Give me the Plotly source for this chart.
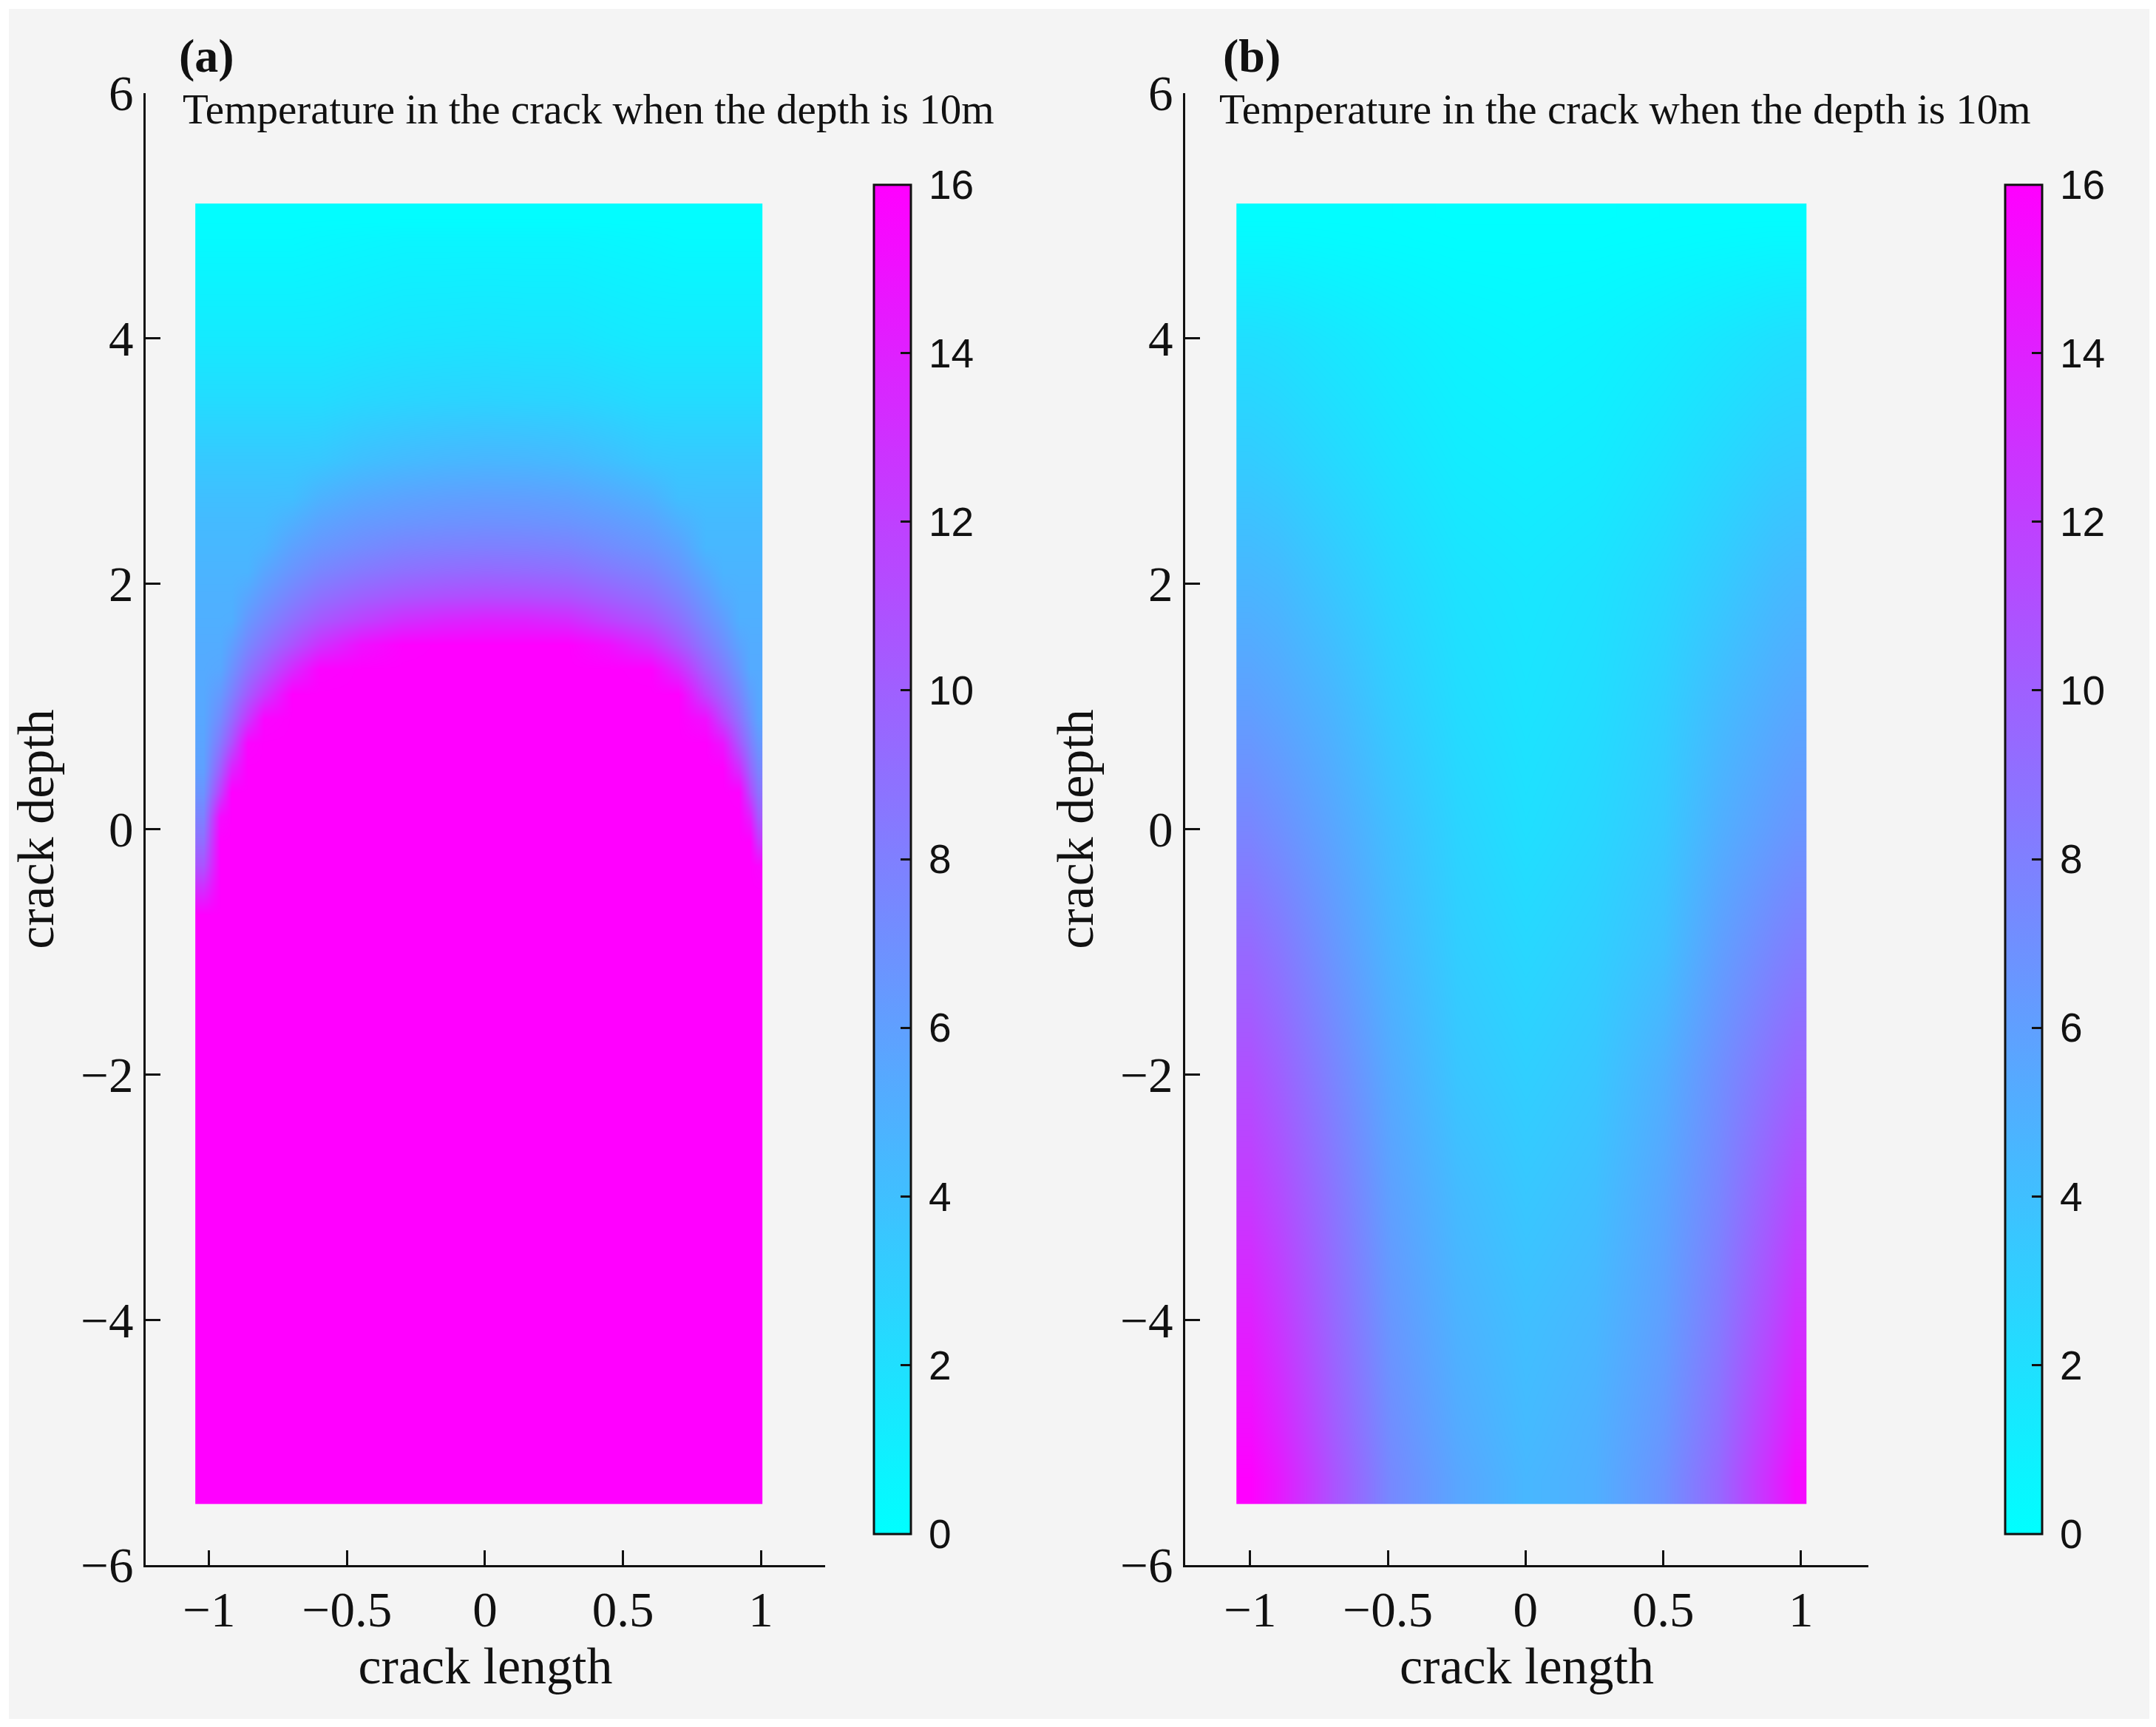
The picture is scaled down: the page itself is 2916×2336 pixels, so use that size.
import plotly.graph_objects as go

# malha (a) - centros das celulas
x_a = [-1.02, -0.96, -0.92, -0.86, -0.8, -0.7, -0.6, -0.45, -0.3, -0.15, 0.0,
       0.15, 0.3, 0.45, 0.6, 0.7, 0.8, 0.86, 0.92, 0.96, 0.99]
y_a = [5.0, 4.8, 4.0, 3.5, 3.0, 2.7, 2.5, 2.3, 2.1, 1.9, 1.7, 1.5, 1.3, 1.1,
       0.9, 0.7, 0.5, 0.3, 0.1, -0.1, -0.3, -0.5, -0.7, -4.9, -5.3]

# temperatura (a) - linhas de cima para baixo
temp_a = [
    [0.1, 0.1, 0.1, 0.1, 0.1, 0.1, 0.1, 0.1, 0.1, 0.1, 0.1, 0.1, 0.1, 0.1, 0.1, 0.1, 0.1, 0.1, 0.1, 0.1, 0.1],
    [0.3, 0.3, 0.3, 0.3, 0.3, 0.3, 0.4, 0.5, 0.6, 0.6, 0.6, 0.6, 0.6, 0.5, 0.4, 0.3, 0.3, 0.3, 0.3, 0.3, 0.3],
    [1.3, 1.3, 1.3, 1.3, 1.3, 1.3, 1.3, 1.45, 1.6, 1.65, 1.7, 1.65, 1.65, 1.45, 1.3, 1.3, 1.3, 1.3, 1.3, 1.3, 1.3],
    [2.2, 2.2, 2.2, 2.2, 2.2, 2.2, 2.2, 2.45, 2.6, 2.7, 2.75, 2.7, 2.65, 2.45, 2.2, 2.2, 2.2, 2.2, 2.2, 2.2, 2.2],
    [3.4, 3.4, 3.4, 3.4, 3.4, 3.4, 3.5, 4.0, 4.3, 4.5, 4.6, 4.55, 4.4, 4.0, 3.5, 3.4, 3.4, 3.4, 3.4, 3.4, 3.4],
    [4.0, 4.0, 4.0, 4.0, 4.0, 4.05, 4.8, 5.4, 5.75, 5.95, 6.05, 6.0, 5.85, 5.4, 4.85, 4.05, 4.0, 4.0, 4.0, 4.0, 4.0],
    [4.3, 4.3, 4.3, 4.3, 4.3, 4.95, 5.7, 6.3, 6.6, 6.8, 6.9, 6.85, 6.7, 6.3, 5.75, 4.95, 4.3, 4.3, 4.3, 4.3, 4.3],
    [4.5, 4.5, 4.5, 4.5, 4.7, 5.85, 6.55, 7.2, 7.7, 7.9, 8.0, 7.95, 7.8, 7.2, 6.6, 5.85, 4.5, 4.5, 4.5, 4.5, 4.5],
    [4.7, 4.7, 4.7, 4.7, 5.6, 6.7, 7.6, 8.4, 8.95, 9.25, 9.4, 9.3, 9.1, 8.4, 7.7, 6.7, 5.4, 4.7, 4.7, 4.7, 4.7],
    [4.9, 4.9, 4.9, 5.6, 6.5, 7.8, 8.9, 9.9, 10.6, 11.0, 11.2, 11.1, 10.8, 9.9, 8.95, 7.8, 6.3, 5.3, 4.9, 4.9, 4.9],
    [5.0, 5.0, 5.05, 6.5, 7.5, 9.1, 10.5, 11.9, 13.1, 13.7, 14.0, 13.9, 13.4, 11.9, 10.6, 9.1, 7.2, 6.2, 5.0, 5.0, 5.0],
    [5.2, 5.2, 5.95, 7.5, 8.75, 10.8, 12.9, 15.0, 15.9, 16.0, 16.0, 16.0, 16.0, 15.0, 13.1, 10.8, 8.4, 7.1, 5.75, 5.2, 5.2],
    [5.3, 5.5, 6.8, 8.75, 10.35, 13.4, 15.8, 16.0, 16.0, 16.0, 16.0, 16.0, 16.0, 16.0, 15.9, 13.4, 9.9, 8.3, 6.6, 5.3, 5.3],
    [5.4, 6.4, 7.9, 10.35, 12.6, 16.0, 16.0, 16.0, 16.0, 16.0, 16.0, 16.0, 16.0, 16.0, 16.0, 16.0, 11.9, 9.75, 7.7, 6.1, 5.4],
    [5.5, 7.3, 9.25, 12.6, 15.7, 16.0, 16.0, 16.0, 16.0, 16.0, 16.0, 16.0, 16.0, 16.0, 16.0, 16.0, 15.0, 11.7, 8.95, 6.95, 5.6],
    [5.7, 8.5, 11.0, 15.7, 16.0, 16.0, 16.0, 16.0, 16.0, 16.0, 16.0, 16.0, 16.0, 16.0, 16.0, 16.0, 16.0, 14.7, 10.6, 8.1, 6.5],
    [5.9, 10.1, 13.7, 16.0, 16.0, 16.0, 16.0, 16.0, 16.0, 16.0, 16.0, 16.0, 16.0, 16.0, 16.0, 16.0, 16.0, 16.0, 13.1, 9.5, 7.5],
    [6.7, 12.2, 16.0, 16.0, 16.0, 16.0, 16.0, 16.0, 16.0, 16.0, 16.0, 16.0, 16.0, 16.0, 16.0, 16.0, 16.0, 16.0, 15.9, 11.35, 8.75],
    [7.8, 15.4, 16.0, 16.0, 16.0, 16.0, 16.0, 16.0, 16.0, 16.0, 16.0, 16.0, 16.0, 16.0, 16.0, 16.0, 16.0, 16.0, 16.0, 14.2, 10.35],
    [9.1, 16.0, 16.0, 16.0, 16.0, 16.0, 16.0, 16.0, 16.0, 16.0, 16.0, 16.0, 16.0, 16.0, 16.0, 16.0, 16.0, 16.0, 16.0, 16.0, 12.6],
    [10.8, 16.0, 16.0, 16.0, 16.0, 16.0, 16.0, 16.0, 16.0, 16.0, 16.0, 16.0, 16.0, 16.0, 16.0, 16.0, 16.0, 16.0, 16.0, 16.0, 15.7],
    [13.4, 16.0, 16.0, 16.0, 16.0, 16.0, 16.0, 16.0, 16.0, 16.0, 16.0, 16.0, 16.0, 16.0, 16.0, 16.0, 16.0, 16.0, 16.0, 16.0, 16.0],
    [16.0, 16.0, 16.0, 16.0, 16.0, 16.0, 16.0, 16.0, 16.0, 16.0, 16.0, 16.0, 16.0, 16.0, 16.0, 16.0, 16.0, 16.0, 16.0, 16.0, 16.0],
    [16.0, 16.0, 16.0, 16.0, 16.0, 16.0, 16.0, 16.0, 16.0, 16.0, 16.0, 16.0, 16.0, 16.0, 16.0, 16.0, 16.0, 16.0, 16.0, 16.0, 16.0],
    [16.0, 16.0, 16.0, 16.0, 16.0, 16.0, 16.0, 16.0, 16.0, 16.0, 16.0, 16.0, 16.0, 16.0, 16.0, 16.0, 16.0, 16.0, 16.0, 16.0, 16.0],
]

x_b = [-1.0, -0.9, -0.7, -0.5, -0.25, 0.0, 0.25, 0.5, 0.7, 0.9, 0.98]
y_b = [5.0, 4.8, 4.0, 3.0, 2.0, 1.0, 0.0, -1.0, -2.0, -3.0, -4.0, -4.9, -5.3]

# temperatura (b)
temp_b = [
    [0.1, 0.1, 0.1, 0.1, 0.0, 0.0, 0.0, 0.1, 0.1, 0.1, 0.1],
    [0.4, 0.4, 0.3, 0.2, 0.1, 0.1, 0.1, 0.2, 0.3, 0.4, 0.4],
    [2.0, 1.9, 1.5, 1.1, 0.7, 0.5, 0.7, 1.1, 1.5, 1.9, 2.0],
    [3.2, 3.0, 2.4, 1.8, 1.2, 1.0, 1.2, 1.8, 2.4, 3.0, 3.1],
    [4.6, 4.4, 3.5, 2.6, 1.8, 1.5, 1.8, 2.5, 3.3, 4.2, 4.4],
    [6.0, 5.6, 4.6, 3.3, 2.2, 1.7, 2.1, 3.0, 4.2, 5.2, 5.5],
    [7.6, 7.0, 5.6, 4.1, 2.7, 2.0, 2.5, 3.4, 5.0, 6.2, 6.6],
    [9.4, 8.6, 6.6, 4.7, 3.1, 2.5, 3.0, 4.0, 6.0, 7.6, 8.1],
    [11.0, 10.0, 7.7, 5.4, 3.6, 3.0, 3.5, 5.0, 7.0, 9.0, 9.7],
    [12.4, 11.3, 8.7, 6.0, 4.3, 3.5, 4.0, 5.6, 7.6, 10.3, 11.4],
    [14.0, 12.6, 9.5, 6.6, 4.8, 4.0, 4.5, 6.0, 8.3, 11.5, 13.0],
    [15.3, 13.8, 10.3, 7.2, 5.3, 4.3, 4.9, 6.5, 9.0, 12.8, 14.5],
    [16.0, 14.5, 10.8, 7.5, 5.6, 4.5, 5.0, 6.8, 9.4, 13.5, 15.4],
]

x_ticks = [-1, -0.5, 0, 0.5, 1]
cb_ticks = [0, 2, 4, 6, 8, 10, 12, 14, 16]

W, H = 2916, 2336
OFF = 8  # margem do body da pagina
serif = "Liberation Serif, Times New Roman, serif"
sans = "Liberation Sans, Arial, sans-serif"
cool = [[0, "rgb(0,255,255)"], [1, "rgb(255,0,255)"]]


def px(x):
    return (x - OFF) / W


def py(y):
    return 1 - (y - OFF) / H


fig = go.Figure()


def colorbar(x_px):
    return dict(
        x=px(x_px), xanchor="left", xpad=0, ypad=0,
        y=py(1162), yanchor="middle",
        len=1825, lenmode="pixels", thickness=50, thicknessmode="pixels",
        outlinewidth=3, outlinecolor="#111",
        ticks="inside", ticklen=15, tickwidth=3, tickcolor="#111",
        tickvals=cb_ticks, ticktext=["\u2009" + str(v) for v in cb_ticks],
        tickfont=dict(family=sans, size=55, color="#111"),
    )


fig.add_trace(go.Heatmap(x=x_a, y=y_a[::-1], z=temp_a[::-1], colorscale=cool,
                         zmin=0, zmax=16, zsmooth="best",
                         colorbar=colorbar(1182), xaxis="x", yaxis="y"))
fig.add_trace(go.Heatmap(x=x_b, y=y_b[::-1], z=temp_b[::-1], colorscale=cool,
                         zmin=0, zmax=16, zsmooth="best",
                         colorbar=colorbar(2712), xaxis="x2", yaxis="y2"))

eixo = dict(showline=True, linecolor="#111", linewidth=3, ticks="inside",
            ticklen=20, tickwidth=3, tickcolor="#111", showgrid=False,
            zeroline=False, tickfont=dict(family=serif, size=67, color="#111"))
titulo = dict(family=serif, size=70, color="#111")
y_dom = [py(2117), py(126)]

fig.update_layout(
    width=W, height=H,
    margin=dict(l=0, r=0, t=0, b=0, autoexpand=False),
    paper_bgcolor="white", plot_bgcolor="rgba(0,0,0,0)",
    showlegend=False,
    xaxis=dict(domain=[px(197), px(1116)], range=[-1.23, 1.233], tickvals=x_ticks,
               anchor="y", title=dict(text="crack length", font=titulo), **eixo),
    yaxis=dict(domain=y_dom, range=[-6, 6], dtick=2, tick0=0, anchor="x",
               title=dict(text="crack depth", font=titulo, standoff=14), **eixo),
    xaxis2=dict(domain=[px(1603), px(2527)], range=[-1.236, 1.245], tickvals=x_ticks,
                anchor="y2", title=dict(text="crack length", font=titulo), **eixo),
    yaxis2=dict(domain=y_dom, range=[-6, 6], dtick=2, tick0=0, anchor="x2",
                title=dict(text="crack depth", font=titulo, standoff=14), **eixo),
)

# fundo cinza claro com moldura branca fina
fig.add_shape(type="rect", xref="paper", yref="paper", x0=px(12), x1=px(2907),
              y0=py(2325), y1=py(12), fillcolor="#f4f4f4", line_width=0,
              layer="below")

for lbl, x_lbl, x_txt in [("(a)", 240, 245), ("(b)", 1652, 1647)]:
    fig.add_annotation(text="<b>" + lbl + "</b>", x=px(x_lbl), y=py(76),
                       xref="paper", yref="paper", xanchor="left", yanchor="middle",
                       showarrow=False, font=dict(family=serif, size=64, color="#111"))
    fig.add_annotation(text="Temperature in the crack when the depth is 10m",
                       x=px(x_txt), y=py(148), xref="paper", yref="paper",
                       xanchor="left", yanchor="middle", showarrow=False,
                       font=dict(family=serif, size=57, color="#111"))

fig.write_html("out.html")
